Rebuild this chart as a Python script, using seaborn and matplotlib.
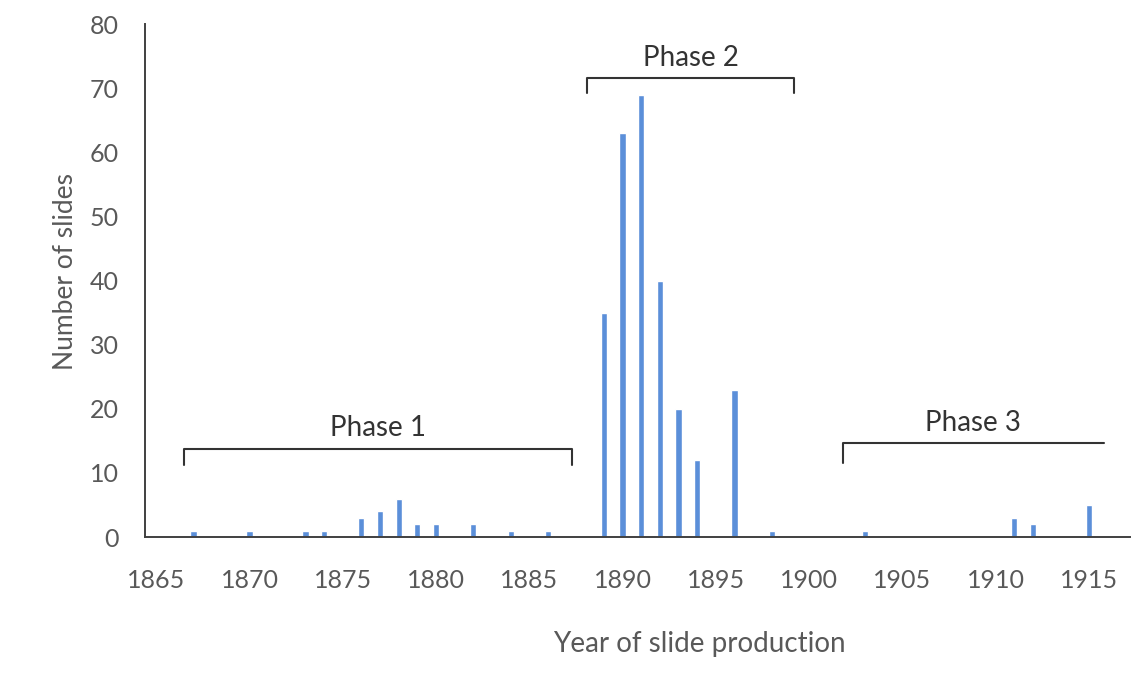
import matplotlib
matplotlib.use("Agg")
import matplotlib.pyplot as plt
import seaborn as sns
import pandas as pd

# ---- data ----
years = [1867, 1870, 1873, 1874, 1876, 1877, 1878, 1879, 1880, 1882, 1884, 1886,
         1889, 1890, 1891, 1892, 1893, 1894, 1896, 1898,
         1903, 1911, 1912, 1915]
slides = [1, 1, 1, 1, 3, 4, 6, 2, 2, 2, 1, 1,
          35, 63, 69, 40, 20, 12, 23, 1,
          1, 3, 2, 5]
x_ticks = [1865, 1870, 1875, 1880, 1885, 1890, 1895, 1900, 1905, 1910, 1915]
y_ticks = [0, 10, 20, 30, 40, 50, 60, 70, 80]
phase_names = ["Phase 1", "Phase 2", "Phase 3"]
phase_spans = [(1866.5, 1887.3), (1888.1, 1899.2), (1901.8, 1915.8)]

df = pd.DataFrame({"year": years, "slides": slides})

sns.set_theme(style="white")
plt.rcParams["font.family"] = ["Lato", "DejaVu Sans"]

fig = plt.figure(figsize=(11.48, 6.89), dpi=100)
ax = fig.add_axes([0.1263, 0.2206, 0.858, 0.744])

sns.barplot(data=df, x="year", y="slides", native_scale=True, width=0.33,
            color="#5b8fd9", saturation=1, ax=ax)

ax.set_xlim(1864.4, 1917.2)
ax.set_ylim(0, 80)
ax.set_xticks(x_ticks)
ax.set_yticks(y_ticks)
ax.tick_params(axis="both", length=0, labelsize=18, colors="#595959")
ax.tick_params(axis="x", pad=23)
ax.tick_params(axis="y", pad=19)

for side in ["top", "right"]:
    ax.spines[side].set_visible(False)
for side in ["left", "bottom"]:
    ax.spines[side].set_color("#404040")
    ax.spines[side].set_linewidth(1.4)

ax.set_xlabel("Year of slide production", fontsize=20, color="#595959")
ax.set_ylabel("Number of slides", fontsize=19, color="#595959")
ax.xaxis.set_label_coords(0.563, -0.183)
ax.yaxis.set_label_coords(-0.068, 0.517)

# phase brackets
bracket_y = [13.8, 71.6, 14.6]
tick_drop = [2.6, 2.3, 3.0]
right_tick = [True, True, False]
for name, (x0, x1), yb, d, rt in zip(phase_names, phase_spans, bracket_y, tick_drop, right_tick):
    xs = [x0, x0, x1] + ([x1] if rt else [])
    ys = [yb - d, yb, yb] + ([yb - d] if rt else [])
    ax.plot(xs, ys, color="#333333", lw=1.5, clip_on=False)
    ax.text((x0 + x1) / 2, yb + 1.2, name, ha="center", va="bottom",
            fontsize=20, color="#333333")

fig.savefig("out.png", dpi=100)
